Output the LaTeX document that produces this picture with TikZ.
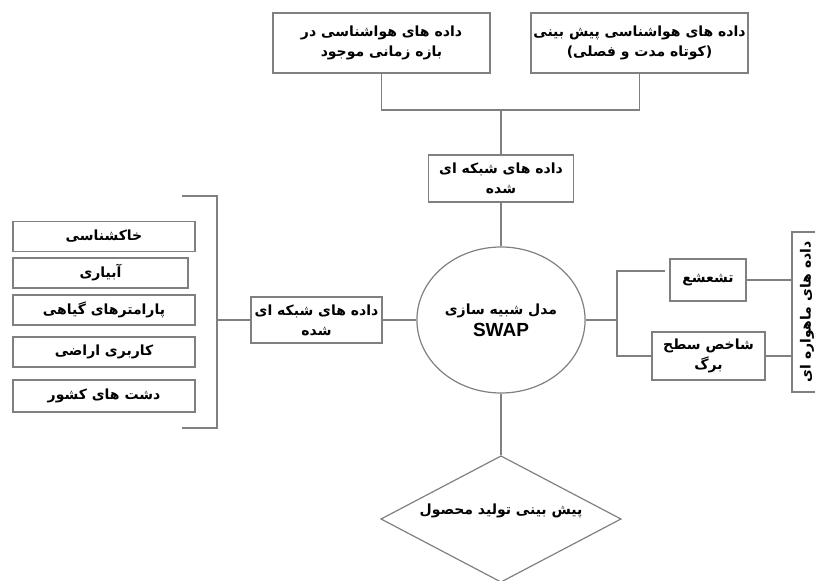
\documentclass[tikz,border=0pt]{standalone}
\usepackage{fontspec}
\setmainfont{Liberation Sans}
\newfontfamily\farsifont[Script=Arabic]{DejaVu Sans}
\TeXXeTstate=1
\usetikzlibrary{shapes.geometric}
\newcommand{\fa}[1]{{\farsifont\beginR #1\endR}}
\tikzset{
    link/.style={draw=black!50, line width=1.3pt},
    databox/.style={draw=black!50, line width=1.2pt, fill=white, align=center, inner sep=2pt,
        font=\bfseries\fontsize{14}{20}\selectfont},
    listbox/.style={databox, minimum width=182, minimum height=30},
}

\begin{document}
\begin{tikzpicture}[x=1pt, y=-1pt]
            \useasboundingbox (0,0) rectangle (815,581);
            \clip (0,0) rectangle (815,581);

            \coordinate (metjoin) at (501,110);
            \coordinate (lbtop) at (182,196);
            \coordinate (lbspine) at (217,320);
            \coordinate (lbbot) at (182,428);
            \coordinate (rspine) at (617,320);
            \coordinate (radarm) at (665,271);

            \node[databox, minimum width=217, minimum height=60] (metnow) at (381.5,43) {\fa{داده های هواشناسی در}\\\fa{بازه زمانی موجود}};
            \node[databox, minimum width=217, minimum height=60] (metfcst) at (639.5,43) {\fa{داده های هواشناسی پیش بینی}\\\fa{(کوتاه مدت و فصلی)}};
            \node[databox, minimum width=145, minimum height=47] (gridtop) at (501,178.5) {\fa{داده های شبکه ای}\\\fa{شده}};
            \node[draw=black!50, line width=1.2pt, ellipse, minimum width=158, minimum height=146, align=center,
                font=\bfseries\fontsize{14}{22}\selectfont] (swap) at (501,320) {\fa{مدل شبیه سازی}\\{\fontsize{19}{22}\selectfont SWAP}};
            \node[databox, minimum width=131, minimum height=46] (gridleft) at (316.5,320) {\fa{داده های شبکه ای}\\\fa{شده}};

            \node[listbox] (soil) at (104,236.5) {\fa{خاکشناسی}};
            \node[listbox, minimum width=175] (irrig) at (100.5,273) {\fa{آبیاری}};
            \node[listbox] (cropprm) at (104,310) {\fa{پارامترهای گیاهی}};
            \node[listbox] (landuse) at (104,352) {\fa{کاربری اراضی}};
            \node[listbox, minimum height=32] (plains) at (104,396) {\fa{دشت های کشور}};

            \node[databox, minimum width=76, minimum height=42] (radiation) at (708,280) {\fa{تشعشع}};
            \node[databox, minimum width=113, minimum height=48] (leaf) at (708.5,356) {\fa{شاخص سطح}\\\fa{برگ}};
            \node[databox, rotate=90, minimum width=160, minimum height=30] (satbox) at (807,312) {\fa{داده های ماهواره ای}};

            \node[draw=black!50, line width=1.2pt, diamond, aspect=1.9, minimum width=240, minimum height=126,
                font=\bfseries\fontsize{14}{20}\selectfont] (yield) at (501,519) {\raisebox{20pt}{\fa{پیش بینی تولید محصول}}};

            \draw[link] (metnow.south) |- (metjoin) -| (metfcst.south);
            \draw[link] (metjoin) -- (gridtop.north);
            \draw[link] (gridtop.south) -- (swap.north);
            \draw[link] (lbtop) -| (lbspine) |- (lbbot);
            \draw[link] (lbspine) -- (gridleft.west);
            \draw[link] (gridleft.east) -- (swap.west);
            \draw[link] (swap.east) -- (rspine);
            \draw[link] (rspine) |- (radarm);
            \draw[link] (rspine) |- (leaf.west);
            \draw[link] (radiation.east) -- (radiation.east -| satbox.north);
            \draw[link] (leaf.east) -- (leaf.east -| satbox.north);
            \draw[link] (swap.south) -- (yield.north);

        \end{tikzpicture}
\end{document}
